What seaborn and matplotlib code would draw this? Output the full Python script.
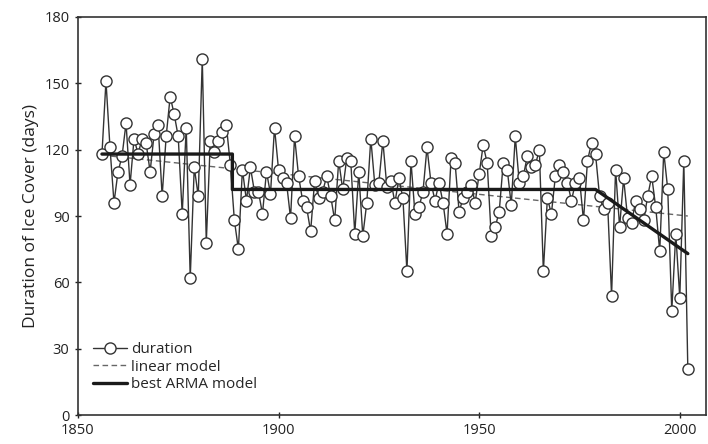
import matplotlib
matplotlib.use("Agg")
import matplotlib.pyplot as plt
import seaborn as sns
import pandas as pd

# ---- data ----
years = list(range(1856, 2003))
duration = [118, 151, 121, 96, 110, 117, 132, 104, 125, 118,
            125, 123, 110, 127, 131, 99, 126, 144, 136, 126,
            91, 130, 62, 112, 99, 161, 78, 124, 119, 124,
            128, 131, 113, 88, 75, 111, 97, 112, 101, 101,
            91, 110, 100, 130, 111, 107, 105, 89, 126, 108,
            97, 94, 83, 106, 98, 101, 108, 99, 88, 115,
            102, 116, 115, 82, 110, 81, 96, 125, 104, 105,
            124, 103, 106, 96, 107, 98, 65, 115, 91, 94,
            101, 121, 105, 97, 105, 96, 82, 116, 114, 92,
            98, 101, 104, 96, 109, 122, 114, 81, 85, 92,
            114, 111, 95, 126, 105, 108, 117, 112, 113, 120,
            65, 98, 91, 108, 113, 110, 105, 97, 105, 107,
            88, 115, 123, 118, 99, 93, 96, 54, 111, 85,
            107, 89, 87, 97, 93, 88, 99, 108, 94, 74,
            119, 102, 47, 82, 53, 115, 21]

linear_years = [1856, 2002]
linear_vals = [117.5, 90.0]

arma_years = [1856, 1888.5, 1888.5, 1979, 2002]
arma_vals = [118, 118, 102, 102, 73]

x_ticks = [1850, 1900, 1950, 2000]
y_ticks = [0, 30, 60, 90, 120, 150, 180]

df = pd.DataFrame({"year": years, "duration": duration})
df_lin = pd.DataFrame({"year": linear_years, "val": linear_vals})
df_arma = pd.DataFrame({"year": arma_years, "val": arma_vals})

sns.set_theme(style="ticks")
plt.rcParams["font.family"] = ["Open Sans", "DejaVu Sans"]

fig = plt.figure(figsize=(7.08, 4.44), dpi=100)
ax = fig.add_axes([0.110, 0.065, 0.887, 0.897])

sns.lineplot(data=df, x="year", y="duration", ax=ax, color="#333333",
             linewidth=1.0, marker="o", markersize=8,
             markerfacecolor="white", markeredgecolor="#333333",
             markeredgewidth=1.0, label="duration", zorder=3,
             estimator=None, sort=False)
sns.lineplot(data=df_lin, x="year", y="val", ax=ax, color="#666666",
             linewidth=1.0, linestyle=(0, (4, 2.5)), label="linear model",
             zorder=2, estimator=None, sort=False)
sns.lineplot(data=df_arma, x="year", y="val", ax=ax, color="#1a1a1a",
             linewidth=2.4, label="best ARMA model", zorder=4,
             estimator=None, sort=False)

ax.set_xlim(1850, 2006.5)
ax.set_ylim(0, 180)
ax.set_xticks(x_ticks)
ax.set_yticks(y_ticks)
ax.set_xlabel("")
ax.set_ylabel("Duration of Ice Cover (days)", fontsize=12.5, color="#222222")
ax.tick_params(axis="both", labelsize=10.5, direction="inout", length=5,
               width=1, colors="#222222")
for s in ax.spines.values():
    s.set_linewidth(1.2)
    s.set_color("#333333")

leg = ax.legend(loc="lower left", frameon=False, fontsize=11,
                handlelength=2.2, handletextpad=0.3, labelspacing=0.15,
                borderaxespad=0.6, bbox_to_anchor=(0.0, 0.02))

fig.savefig("out.png", dpi=100)
